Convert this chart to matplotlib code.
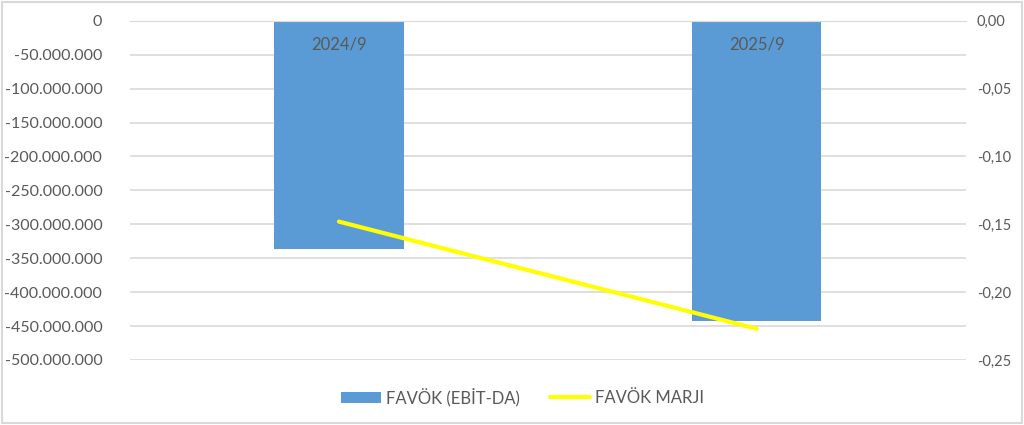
import matplotlib.pyplot as plt
from matplotlib.patches import Rectangle
from matplotlib.ticker import FuncFormatter

plt.rcParams['font.family'] = ['Lato', 'DejaVu Sans']

categories = ['2024/9', '2025/9']
favok = [-337_000_000, -442_000_000]
favok_marji = [-0.148, -0.227]

text_color = '#595959'
grid_color = '#d9d9d9'

fig = plt.figure(figsize=(10.24, 4.25), dpi=100)
ax = fig.add_axes([0.127, 0.153, 0.816, 0.798])
ax2 = ax.twinx()

x = list(range(len(categories)))
ax.bar(x, favok, width=0.31, color='#5b9bd5', zorder=2, label='FAVÖK (EBİT-DA)')
ax2.plot(x, favok_marji, color='#ffff00', linewidth=3, solid_capstyle='round',
         label='FAVÖK MARJI', zorder=3)

ax.set_xlim(-0.5, 1.5)
ax.set_ylim(-500_000_000, 0)
ax.set_yticks(range(-500_000_000, 1, 50_000_000))
ax.yaxis.set_major_formatter(FuncFormatter(lambda v, p: f"{int(v):,}".replace(",", ".")))
ax2.set_ylim(-0.25, 0)
ax2.set_yticks([-0.25, -0.2, -0.15, -0.1, -0.05, 0])
ax2.yaxis.set_major_formatter(FuncFormatter(lambda v, p: f"{v:.2f}".replace(".", ",")))

ax.grid(axis='y', color=grid_color, linewidth=1.2, zorder=0)
ax.set_axisbelow(True)

# category labels sit just under the zero line, inside the bars
ax.set_xticks(x)
ax.tick_params(axis='x', length=0, labelbottom=False)
for i, c in enumerate(categories):
    ax.annotate(c, (i, 0), xytext=(0, -17), textcoords='offset points',
                ha='center', va='center', fontsize=12, color=text_color, zorder=5)

ax.tick_params(axis='y', length=0, pad=20, labelsize=11.5, colors=text_color)
ax2.tick_params(axis='y', length=0, pad=8, labelsize=10.5, colors=text_color)
for a in (ax, ax2):
    for s in a.spines.values():
        s.set_visible(False)
ax.spines['top'].set_visible(True)
ax.spines['top'].set_color(grid_color)

h1, l1 = ax.get_legend_handles_labels()
h2, l2 = ax2.get_legend_handles_labels()
leg = fig.legend(h1 + h2, l1 + l2, loc='center', bbox_to_anchor=(0.51, 0.066), ncol=2,
                 frameon=False, fontsize=12, handlelength=2.4, columnspacing=1.8,
                 handletextpad=0.3)
for t in leg.get_texts():
    t.set_color(text_color)

fig.patches.append(Rectangle((0.002, 0.004), 0.996, 0.992, transform=fig.transFigure,
                             fill=False, edgecolor='#d9d9d9', linewidth=1.5))

fig.savefig('out.png', dpi=100)
